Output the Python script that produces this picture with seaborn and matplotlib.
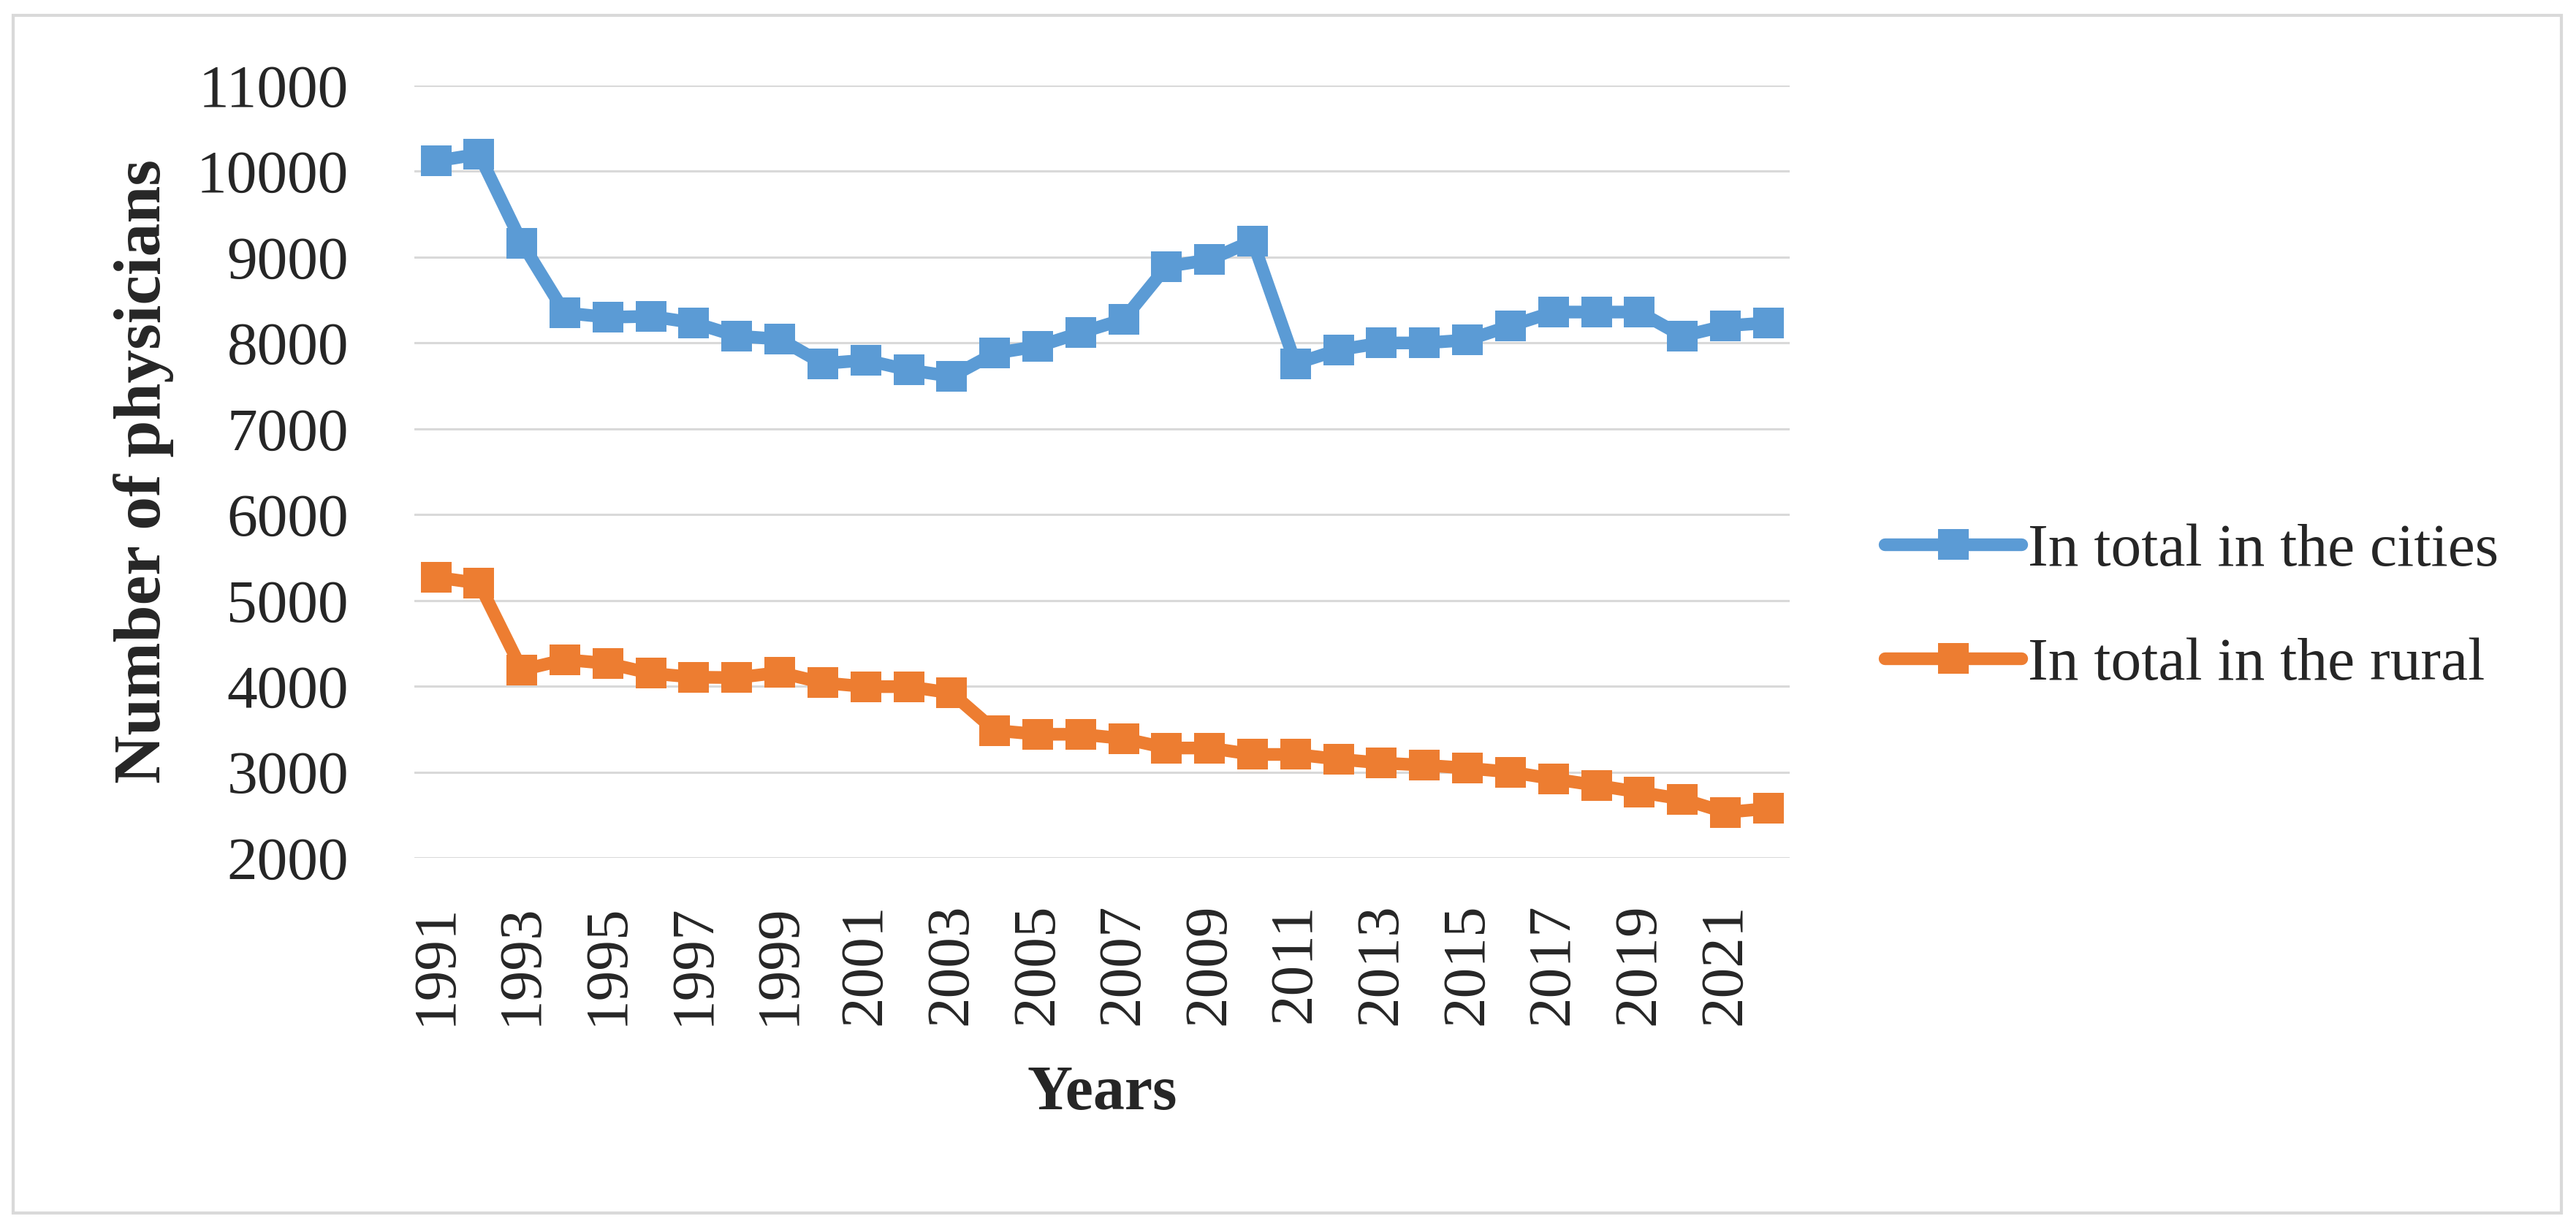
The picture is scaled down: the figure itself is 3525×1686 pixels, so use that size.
import pandas as pd
import matplotlib.pyplot as plt
import seaborn as sns
from matplotlib.patches import Rectangle

# values
years = list(range(1991, 2023))
cities = [10120, 10200, 9165, 8350, 8300, 8310, 8235, 8080, 8045, 7760,
          7800, 7685, 7610, 7880, 7960, 8120, 8275, 8890, 8970, 9190,
          7760, 7920, 8000, 8000, 8035, 8200, 8360, 8360, 8360, 8080,
          8200, 8235]
rural = [5270, 5200, 4190, 4310, 4265, 4150, 4105, 4100, 4160, 4040,
         3995, 3995, 3920, 3485, 3440, 3440, 3390, 3280, 3280, 3205,
         3205, 3150, 3105, 3080, 3045, 3000, 2920, 2845, 2765, 2685,
         2530, 2575]
series_names = ['In total in the cities', 'In total in the rural']
colors = ['#5B9BD5', '#ED7D31']
y_ticks = list(range(2000, 11001, 1000))
x_ticks = list(range(1991, 2022, 2))

df = pd.DataFrame({
    'Year': years * 2,
    'Physicians': cities + rural,
    'Series': [series_names[0]] * len(years) + [series_names[1]] * len(years),
})

sns.set_theme(style='white')
plt.rcParams['font.family'] = ['Liberation Serif', 'DejaVu Serif']

fig = plt.figure(figsize=(35.25, 16.86), dpi=100)
ax = fig.add_axes([0.1609, 0.3037, 0.5339, 0.6269])

sns.lineplot(data=df, x='Year', y='Physicians', hue='Series',
             palette=colors, marker='s', markersize=30, linewidth=12.5,
             markeredgewidth=0, ax=ax)

ax.set_xlim(1990.5, 2022.5)
ax.set_ylim(2000, 11000)
ax.set_yticks(y_ticks)
ax.set_yticklabels([str(v) for v in y_ticks], fontsize=60)
ax.set_xticks(x_ticks)
ax.set_xticklabels([str(v) for v in x_ticks], fontsize=60, rotation=90)
ax.tick_params(axis='y', length=0, pad=65)
ax.tick_params(axis='x', length=0, pad=45)

ax.grid(axis='y', color='#D9D9D9', linewidth=2.2)
ax.grid(axis='x', visible=False)
ax.set_axisbelow(True)
for s in ax.spines.values():
    s.set_visible(False)

ax.set_xlabel('Years', fontsize=62, fontweight='bold', va='center')
ax.xaxis.set_label_coords(0.5, -0.3065)
ax.set_ylabel('Number of physicians', fontsize=66, fontweight='bold', va='center')
ax.yaxis.set_label_coords(-0.197, 0.5)

ax.legend(loc='center left', bbox_to_anchor=(0.7316, 0.5065),
          bbox_transform=fig.transFigure, frameon=False, fontsize=60,
          handlelength=2.25, handletextpad=0.1, labelspacing=0.95,
          borderpad=0, borderaxespad=0)

# light grey frame around the whole chart
fig.patches.append(Rectangle((18 / 3525, 1 - 1660 / 1686), (3505 - 18) / 3525,
                             (1660 - 21) / 1686, transform=fig.transFigure,
                             fill=False, edgecolor='#D9D9D9', linewidth=3))

fig.savefig('out.png', dpi=100)
